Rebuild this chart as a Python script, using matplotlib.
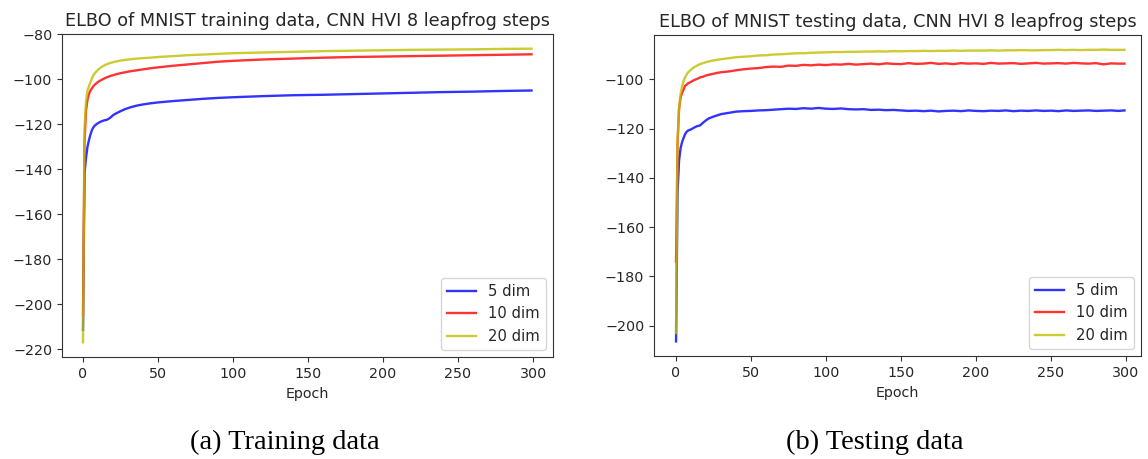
import matplotlib
matplotlib.use("Agg")
import matplotlib.pyplot as plt

# ---------------- data ----------------
train_epochs = [0, 1, 2, 3, 4, 5, 6, 7, 8, 10, 12, 14, 16, 18, 20, 22, 25, 28, 32, 36,
                40, 45, 50, 60, 70, 80, 90, 100, 120, 140, 160, 180, 200, 220, 240,
                260, 280, 299]
train_5dim = [-211.5, -142, -135, -130, -127, -124.5, -122.5, -121.3, -120.5, -119.5,
              -118.8, -118.3, -118.0, -117.2, -116.0, -115.2, -114.2, -113.3, -112.4,
              -111.7, -111.2, -110.7, -110.3, -109.7, -109.2, -108.7, -108.3, -108.0,
              -107.5, -107.1, -106.9, -106.6, -106.3, -106.0, -105.7, -105.5, -105.2,
              -105.0]
train_10dim = [-205, -128, -114, -109, -106.5, -105, -104, -103, -102.3, -101.2, -100.4,
               -99.7, -99.1, -98.6, -98.2, -97.8, -97.3, -96.9, -96.4, -96.0, -95.6,
               -95.1, -94.7, -94.0, -93.4, -92.8, -92.2, -91.8, -91.2, -90.8, -90.4,
               -90.1, -89.9, -89.7, -89.5, -89.3, -89.1, -88.9]
train_20dim = [-217, -122, -110, -105, -103, -101.3, -99.5, -98.2, -97.2, -95.8, -94.7,
               -93.9, -93.3, -92.8, -92.4, -92.1, -91.7, -91.4, -91.1, -90.8, -90.6,
               -90.4, -90.1, -89.7, -89.3, -89.0, -88.7, -88.4, -88.1, -87.8, -87.5,
               -87.3, -87.1, -86.9, -86.8, -86.7, -86.5, -86.4]

test_epochs = [0, 1, 2, 3, 4, 5, 6, 7, 8, 10, 12, 14, 16, 18, 20, 22, 25, 28,
               30, 35, 40, 45, 50, 55, 60, 65, 70, 75, 80, 85, 90, 95, 100, 105, 110,
               115, 120, 125, 130, 135, 140, 145, 150, 155, 160, 165, 170, 175, 180,
               185, 190, 195, 200, 205, 210, 215, 220, 225, 230, 235, 240, 245, 250,
               255, 260, 265, 270, 275, 280, 285, 290, 295, 299]
test_5dim = [-206.4, -146, -133, -128, -125.5, -123.8, -122.3, -121.3, -120.8, -120.3,
             -119.6, -119.0, -118.7, -117.6, -116.6, -115.8, -115.1, -114.5,
             -114.1, -113.6, -113.1, -112.9, -112.8, -112.6, -112.5, -112.3, -112.1,
             -111.9, -112.0, -111.7, -111.9, -111.6, -111.9, -112.0, -111.8, -112.1,
             -112.2, -112.1, -112.4, -112.3, -112.5, -112.4, -112.6, -112.8, -112.7,
             -112.9, -112.7, -113.0, -112.8, -112.7, -112.9, -112.6, -112.8, -112.9,
             -112.7, -112.8, -112.6, -112.9, -112.7, -112.8, -112.6, -112.8, -112.7,
             -112.9, -112.6, -112.8, -112.7, -112.6, -112.8, -112.7, -112.6, -112.8,
             -112.6]
test_10dim = [-174, -126, -112, -107.5, -105.5, -104.2, -102.6, -102.2, -101.6, -101.0,
              -100.3, -99.8, -99.2, -98.9, -98.4, -98.1, -97.7, -97.3,
              -97.1, -96.8, -96.3, -95.9, -95.6, -95.4, -95.0, -94.8, -94.9, -94.4,
              -94.5, -94.1, -94.3, -94.0, -94.2, -93.9, -94.0, -93.7, -94.0, -93.8,
              -93.6, -93.9, -93.5, -93.7, -93.8, -93.4, -93.7, -93.6, -93.3, -93.7,
              -93.5, -93.8, -93.4, -93.6, -93.5, -93.7, -93.3, -93.6, -93.5, -93.4,
              -93.7, -93.5, -93.3, -93.6, -93.5, -93.4, -93.6, -93.3, -93.5, -93.6,
              -93.4, -93.9, -93.5, -93.6, -93.6]
test_20dim = [-203, -125, -112, -106, -103, -100.6, -99.2, -98.1, -97.2, -96.0, -95.1,
              -94.4, -93.8, -93.4, -93.0, -92.7, -92.3, -92.0,
              -91.8, -91.4, -91.0, -90.8, -90.6, -90.3, -90.2, -89.9, -89.8, -89.6,
              -89.4, -89.4, -89.2, -89.1, -89.0, -88.9, -88.9, -88.8, -88.8, -88.7,
              -88.7, -88.6, -88.7, -88.5, -88.6, -88.5, -88.5, -88.4, -88.5, -88.4,
              -88.4, -88.3, -88.4, -88.3, -88.3, -88.3, -88.2, -88.3, -88.2, -88.2,
              -88.1, -88.2, -88.2, -88.1, -88.1, -88.0, -88.1, -88.0, -88.1, -88.0,
              -88.0, -87.9, -88.0, -88.0, -88.0]

series_labels = ["5 dim", "10 dim", "20 dim"]
titles = ["ELBO of MNIST training data, CNN HVI 8 leapfrog steps",
          "ELBO of MNIST testing data, CNN HVI 8 leapfrog steps"]
captions = ["(a) Training data", "(b) Testing data"]

# ---------------- figure ----------------
W, H = 1148, 459
fig = plt.figure(figsize=(W / 100, H / 100), dpi=100)

colors = ["b", "r", "y"]
txt = "#262626"

ax1 = fig.add_axes([62 / W, 1 - 357 / H, (553 - 62) / W, (357 - 34) / H])
ax2 = fig.add_axes([654 / W, 1 - 356 / H, (1141 - 654) / W, (356 - 35) / H])

panels = [
    (ax1, train_epochs, [train_5dim, train_10dim, train_20dim]),
    (ax2, test_epochs, [test_5dim, test_10dim, test_20dim]),
]

for i, (ax, ep, ys) in enumerate(panels):
    for y, c, lab in zip(ys, colors, series_labels):
        ax.plot(ep, y, color=c, alpha=0.8, linewidth=1.7, label=lab)
    ax.set_title(titles[i], fontsize=12.7, pad=6, color=txt)
    ax.set_xlabel("Epoch", fontsize=10.3, labelpad=4.5, color=txt)
    ax.tick_params(labelsize=10.3, length=3.5, width=0.8, labelcolor=txt,
                   color="#333333")
    for s in ax.spines.values():
        s.set_edgecolor("#333333")
    ax.set_xticks([0, 50, 100, 150, 200, 250, 300])
    leg = ax.legend(loc="lower right", fontsize=10.6, handlelength=2.0)
    for t in leg.get_texts():
        t.set_color(txt)

ax1.set_xlim(-14, 313.3)
ax1.set_yticks([-80, -100, -120, -140, -160, -180, -200, -220])
ax2.set_xlim(-14.7, 310)
ax2.set_yticks([-100, -120, -140, -160, -180, -200])

for cx, cap in zip([285 / W, 875 / W], captions):
    fig.text(cx, 1 - 442 / H, cap, ha="center", va="center",
             fontsize=20.5, family="Liberation Serif")

fig.savefig("out.png", dpi=100)
